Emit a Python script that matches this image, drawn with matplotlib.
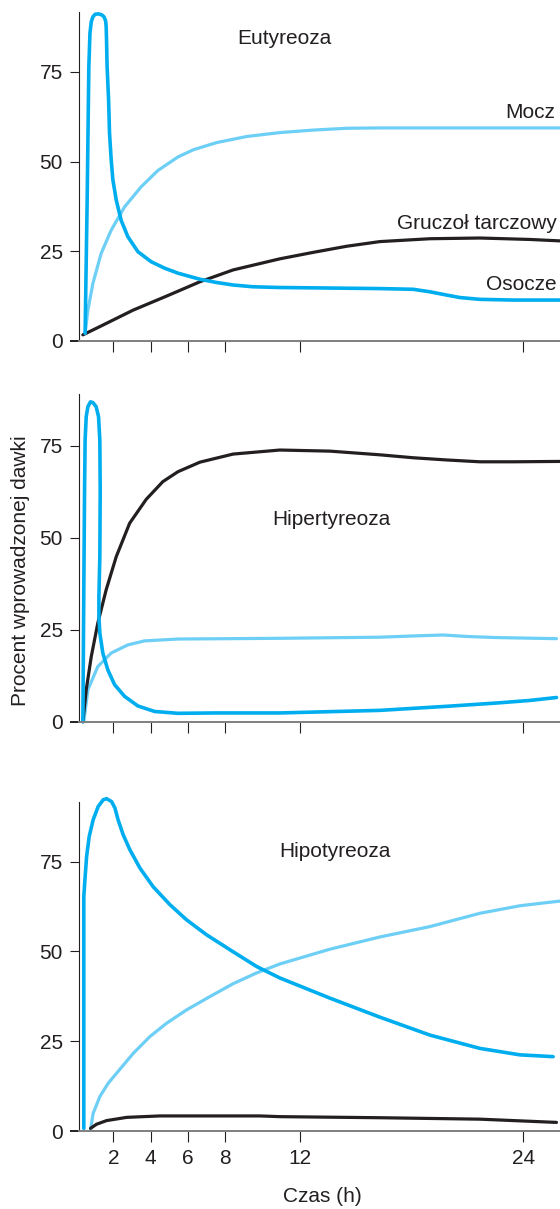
import matplotlib
matplotlib.use("Agg")
import matplotlib.pyplot as plt

plt.rcParams['font.family'] = ['Liberation Sans', 'DejaVu Sans']

TXT = '#231F20'
C_OSO = '#00AEEF'
C_MOC = '#6DCFF6'
C_GRU = '#231F20'

xticks = [2, 4, 6, 8, 12, 24]
yticks = [0, 25, 50, 75]

# ---- Panel 1: Eutyreoza ----
eu_oso_x = [0.49, 0.60, 0.69, 0.75, 0.82, 0.91, 1.03, 1.21, 1.39, 1.50, 1.59, 1.62, 1.64,
            1.67, 1.75, 1.80, 1.89, 1.98, 2.16, 2.42, 2.78, 3.32, 4.03, 4.75, 5.47, 6.65,
            7.54, 8.43, 9.51, 10.94, 14.52, 16.30, 18.09, 18.99, 19.88, 20.60, 21.67,
            23.46, 25.96]
eu_oso_y = [2.1, 39.3, 76.5, 85.8, 89.0, 90.4, 91.1, 91.2, 90.9, 90.4, 89.3, 87.6, 83.9,
            76.5, 67.2, 57.9, 50.5, 44.9, 39.3, 33.7, 29.1, 24.9, 22.1, 20.3, 18.9, 17.2,
            16.3, 15.6, 15.1, 14.9, 14.7, 14.6, 14.4, 13.7, 12.8, 12.1, 11.6, 11.4, 11.4]
eu_moc_x = [0.49, 0.64, 0.91, 1.35, 1.89, 2.61, 3.50, 4.39, 5.47, 6.29, 7.54, 9.15, 10.94,
            12.73, 14.52, 16.30, 25.96]
eu_moc_y = [2.1, 8.6, 16.1, 24.4, 30.9, 37.4, 43.0, 47.5, 51.3, 53.3, 55.3, 57.0, 58.1,
            58.8, 59.3, 59.4, 59.4]
eu_gru_x = [0.37, 1.28, 3.07, 4.86, 6.65, 8.43, 10.94, 12.73, 14.52, 16.30, 18.99, 21.67,
            24.35, 25.96]
eu_gru_y = [1.7, 4.0, 8.6, 12.5, 16.5, 19.8, 22.9, 24.7, 26.4, 27.7, 28.5, 28.7, 28.3, 27.9]

# ---- Panel 2: Hipertyreoza ----
hr_oso_x = [0.37, 0.42, 0.46, 0.49, 0.55, 0.64, 0.78, 0.91, 1.08, 1.21, 1.28, 1.30, 1.28,
            1.23, 1.23, 1.28, 1.44, 1.71, 2.07, 2.61, 3.32, 4.22, 5.47, 7.50, 10.94, 16.30,
            19.88, 22.56, 24.35, 25.78]
hr_oso_y = [0.0, 35.9, 63.0, 76.6, 83.0, 85.7, 87.0, 86.8, 85.7, 83.0, 76.6, 63.0, 44.9,
            34.0, 28.6, 24.1, 18.7, 14.1, 10.1, 6.9, 4.3, 2.8, 2.3, 2.4, 2.4, 3.1, 4.2, 5.1,
            5.8, 6.6]
hr_moc_x = [0.42, 0.64, 1.17, 1.89, 2.78, 3.68, 5.47, 10.94, 16.30, 18.45, 19.70, 20.95,
            22.56, 25.78]
hr_moc_y = [0.0, 8.7, 15.0, 18.7, 20.9, 22.0, 22.5, 22.7, 23.0, 23.4, 23.6, 23.2, 22.9, 22.6]
hr_gru_x = [0.37, 0.55, 0.82, 1.17, 1.62, 2.16, 2.88, 3.77, 4.66, 5.47, 6.65, 8.43, 10.94,
            13.62, 16.30, 18.09, 19.88, 21.67, 23.46, 25.96]
hr_gru_y = [0.0, 8.7, 17.7, 26.8, 35.9, 44.9, 54.0, 60.5, 65.3, 68.0, 70.6, 72.8, 73.9,
            73.6, 72.6, 71.8, 71.2, 70.7, 70.7, 70.8]

# ---- Panel 3: Hipotyreoza ----
ho_oso_x = [0.42, 0.42, 0.48, 0.57, 0.71, 0.92, 1.19, 1.46, 1.64, 1.91, 2.09, 2.26, 2.53,
            2.89, 3.43, 4.14, 5.04, 5.93, 7.01, 8.43, 9.69, 10.94, 13.62, 16.30, 18.99,
            21.67, 23.82, 25.60]
ho_oso_y = [0.75, 65.3, 69.9, 76.4, 82.0, 86.6, 90.3, 92.2, 92.5, 91.7, 89.9, 86.6, 82.5,
            78.3, 73.2, 68.0, 63.0, 58.8, 54.6, 49.9, 45.8, 42.6, 37.0, 31.7, 26.7, 23.0,
            21.2, 20.7]
ho_moc_x = [0.78, 0.92, 1.28, 1.73, 2.18, 3.07, 3.97, 4.86, 5.93, 7.18, 8.43, 9.69, 10.94,
            13.62, 16.30, 18.99, 21.67, 23.82, 25.96]
ho_moc_y = [0.3, 4.9, 9.6, 13.3, 16.1, 21.6, 26.3, 30.0, 33.7, 37.4, 41.0, 44.0, 46.5,
            50.6, 54.0, 56.9, 60.6, 62.7, 64.0]
ho_gru_x = [0.78, 1.11, 1.64, 2.72, 4.50, 9.87, 10.94, 16.30, 21.67, 25.78]
ho_gru_y = [0.75, 1.9, 2.9, 3.8, 4.2, 4.2, 4.0, 3.7, 3.3, 2.4]

panels = [
    dict(rect=[0.141, 0.718, 0.859, 0.272], ymax=91.7,
         oso=(eu_oso_x, eu_oso_y), moc=(eu_moc_x, eu_moc_y), gru=(eu_gru_x, eu_gru_y),
         title='Eutyreoza', tpos=(0.428, 0.921)),
    dict(rect=[0.141, 0.403, 0.859, 0.271], ymax=89.1,
         oso=(hr_oso_x, hr_oso_y), moc=(hr_moc_x, hr_moc_y), gru=(hr_gru_x, hr_gru_y),
         title='Hipertyreoza', tpos=(0.524, 0.616)),
    dict(rect=[0.141, 0.0645, 0.859, 0.2725], ymax=91.7,
         oso=(ho_oso_x, ho_oso_y), moc=(ho_moc_x, ho_moc_y), gru=(ho_gru_x, ho_gru_y),
         title='Hipotyreoza', tpos=(0.532, 0.848)),
]

fig = plt.figure(figsize=(5.6, 12.09), dpi=100)
axes = []
for i, p in enumerate(panels):
    ax = fig.add_axes(p['rect'])
    axes.append(ax)
    ax.plot(*p['moc'], color=C_MOC, lw=2.3, solid_capstyle='round', solid_joinstyle='round',
            clip_on=False)
    ax.plot(*p['gru'], color=C_GRU, lw=2.3, solid_capstyle='round', solid_joinstyle='round',
            clip_on=False)
    ax.plot(*p['oso'], color=C_OSO, lw=2.6, solid_capstyle='round', solid_joinstyle='round',
            clip_on=False)
    ax.set_xlim(0.16, 25.97)
    ax.set_ylim(0, p['ymax'])
    for s in ['top', 'right']:
        ax.spines[s].set_visible(False)
    ax.spines['left'].set_color(TXT)
    ax.spines['left'].set_linewidth(0.8)
    ax.spines['bottom'].set_color('#7F7F7F')
    ax.spines['bottom'].set_linewidth(1.4)
    ax.set_xticks(xticks)
    ax.set_yticks(yticks)
    ax.tick_params(axis='y', direction='out', length=6.5, width=0.8, color=TXT,
                   labelsize=15, labelcolor=TXT, pad=5)
    ax.tick_params(axis='x', direction='out', length=8, width=0.8, color=TXT,
                   labelsize=15, labelcolor=TXT, pad=5)
    t0 = ax.yaxis.get_major_ticks()[0]
    t0.tick1line.set_color('#7F7F7F')
    t0.tick1line.set_markeredgewidth(1.4)
    if i < 2:
        ax.set_xticklabels([])
    ax.text(*p['tpos'], p['title'], transform=ax.transAxes, ha='center', va='center',
            fontsize=15, color=TXT)

ax1 = axes[0]
ax1.text(0.990, 0.696, 'Mocz', transform=ax1.transAxes, ha='right', va='center',
         fontsize=15, color=TXT)
ax1.text(0.994, 0.356, 'Gruczoł tarczowy', transform=ax1.transAxes, ha='right', va='center',
         fontsize=15, color=TXT)
ax1.text(0.994, 0.173, 'Osocze', transform=ax1.transAxes, ha='right', va='center',
         fontsize=15, color=TXT)

fig.text(0.036, 1 - 571 / 1209, 'Procent wprowadzonej dawki', rotation=90,
         ha='center', va='center', fontsize=15, color=TXT)
fig.text(322 / 560, 1 - 1197 / 1209, 'Czas (h)', ha='center', va='center',
         fontsize=15, color=TXT)

fig.savefig('out.png', dpi=100)
